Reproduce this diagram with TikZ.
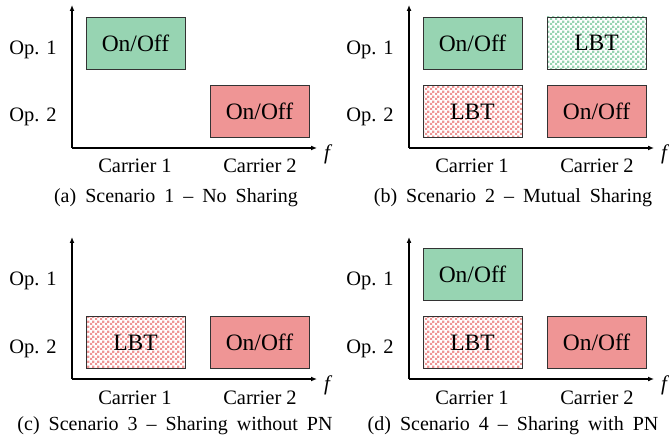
\documentclass[tikz,border=0pt]{standalone}
\usepackage{fontspec}
\setmainfont{Liberation Serif}
\usepackage{xcolor}
\usepackage{tikz}
\usetikzlibrary{arrows.meta,positioning,patterns}
\definecolor{opgreen}{HTML}{97D4B2}
\definecolor{opred}{HTML}{EF9595}
\definecolor{edge}{HTML}{333333}
\newcommand{\capwide}{\spaceskip 9bp\relax}
\pgfdeclarepatternformonly{finecheck}{\pgfpointorigin}{\pgfqpoint{5bp}{5bp}}{\pgfqpoint{5bp}{5bp}}{%
  \pgfpathrectangle{\pgfpointorigin}{\pgfqpoint{2.6bp}{2.6bp}}%
  \pgfpathrectangle{\pgfqpoint{2.5bp}{2.5bp}}{\pgfqpoint{2.6bp}{2.6bp}}%
  \pgfusepath{fill}}

\begin{document}
\begin{tikzpicture}[
  x=1bp,y=-1bp,
  font=\fontsize{20.5bp}{24bp}\selectfont,
  onoff/.style={draw=edge,line width=0.9bp,minimum width=99bp,minimum height=52bp,
                inner sep=0pt,font=\fontsize{23.5bp}{26bp}\selectfont},
  grn/.style={onoff,fill=opgreen},
  rd/.style={onoff,fill=opred},
  lbtg/.style={onoff,preaction={fill=white},pattern=finecheck,pattern color=opgreen},
  lbtr/.style={onoff,preaction={fill=white},pattern=finecheck,pattern color=opred},
  oplbl/.style={inner sep=0pt,anchor=base},
  flbl/.style={inner sep=0pt,font=\fontsize{21bp}{24bp}\selectfont\itshape},
  subcap/.style={inner sep=0pt,anchor=base,font=\fontsize{20bp}{24bp}\selectfont\capwide},
  ax/.style={-{Latex[length=6bp,width=5bp]},line width=1.2bp}
]
\useasboundingbox (0,0) rectangle (669,445);

% ---- (a) Scenario 1
\begin{scope}[shift={(0,0)}]
  \coordinate (oa) at (72,148);
  \coordinate (ya) at (72,5);
  \coordinate (xa) at (317,148);
  \draw[ax] (oa) -- (ya);
  \draw[ax] (oa) -- (xa);
  \node[oplbl] (opa1) at (33,55) {Op. 1};
  \node[oplbl] (opa2) at (33,122) {Op. 2};
  \node[flbl] (fa) at (327,154) {f};
  \node[oplbl] (ca1) at (135,173) {Carrier 1};
  \node[oplbl] (ca2) at (260,173) {Carrier 2};
  \node[grn] (a11) at (135.5,43) {On/Off};
  \node[rd] (a22) at (259.5,111.5) {On/Off};
  \node[subcap] (capa) at (176,203) {(a) Scenario 1 -- No Sharing};
\end{scope}

% ---- (b) Scenario 2
\begin{scope}[shift={(337,0)}]
  \coordinate (ob) at (72,148);
  \coordinate (yb) at (72,5);
  \coordinate (xb) at (317,148);
  \draw[ax] (ob) -- (yb);
  \draw[ax] (ob) -- (xb);
  \node[oplbl] (opb1) at (33,55) {Op. 1};
  \node[oplbl] (opb2) at (33,122) {Op. 2};
  \node[flbl] (fb) at (327,154) {f};
  \node[oplbl] (cb1) at (135,173) {Carrier 1};
  \node[oplbl] (cb2) at (260,173) {Carrier 2};
  \node[grn] (b11) at (135.5,43) {On/Off};
  \node[lbtg] (b12) at (259.5,43) {LBT};
  \node[lbtr] (b21) at (135.5,111.5) {LBT};
  \node[rd] (b22) at (259.5,111.5) {On/Off};
  \node[subcap] (capb) at (176,203) {(b) Scenario 2 -- Mutual Sharing};
\end{scope}

% ---- (c) Scenario 3
\begin{scope}[shift={(0,231)}]
  \coordinate (oc) at (72,148);
  \coordinate (yc) at (72,6);
  \coordinate (xc) at (317,148);
  \draw[ax] (oc) -- (yc);
  \draw[ax] (oc) -- (xc);
  \node[oplbl] (opc1) at (33,55) {Op. 1};
  \node[oplbl] (opc2) at (33,122) {Op. 2};
  \node[flbl] (fc) at (327,154) {f};
  \node[oplbl] (cc1) at (135,173) {Carrier 1};
  \node[oplbl] (cc2) at (260,173) {Carrier 2};
  \node[lbtr] (c21) at (135.5,111.5) {LBT};
  \node[rd] (c22) at (259.5,111.5) {On/Off};
  \node[subcap] (capc) at (175,199) {(c) Scenario 3 -- Sharing without PN};
\end{scope}

% ---- (d) Scenario 4
\begin{scope}[shift={(337,231)}]
  \coordinate (od) at (72,148);
  \coordinate (yd) at (72,6);
  \coordinate (xd) at (317,148);
  \draw[ax] (od) -- (yd);
  \draw[ax] (od) -- (xd);
  \node[oplbl] (opd1) at (33,55) {Op. 1};
  \node[oplbl] (opd2) at (33,122) {Op. 2};
  \node[flbl] (fd) at (327,154) {f};
  \node[oplbl] (cd1) at (135,173) {Carrier 1};
  \node[oplbl] (cd2) at (260,173) {Carrier 2};
  \node[grn] (d11) at (135.5,43) {On/Off};
  \node[lbtr] (d21) at (135.5,111.5) {LBT};
  \node[rd] (d22) at (259.5,111.5) {On/Off};
  \node[subcap] (capd) at (176,199) {(d) Scenario 4 -- Sharing with PN};
\end{scope}
\end{tikzpicture}
\end{document}
